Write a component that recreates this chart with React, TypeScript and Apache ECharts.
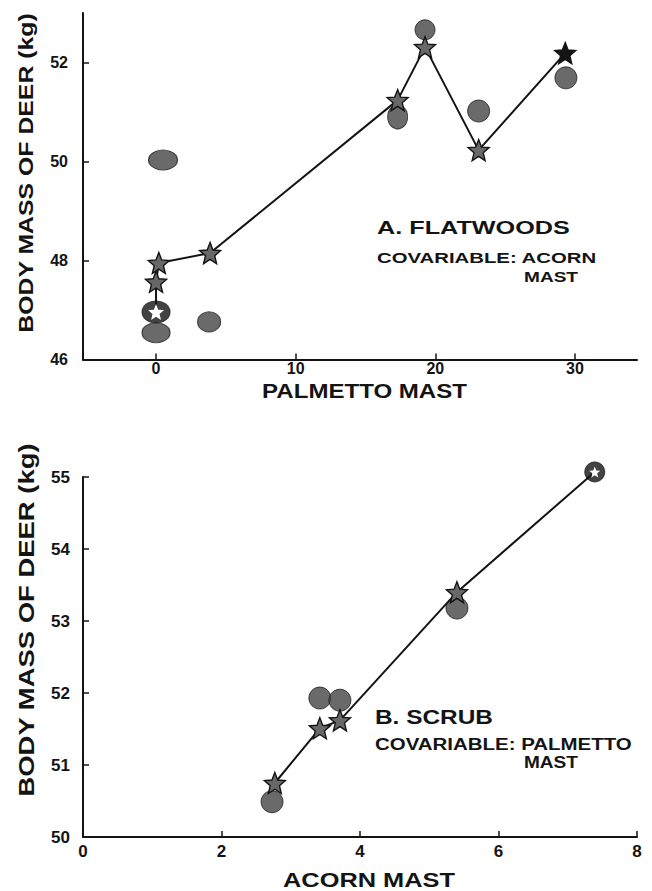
import React, { useEffect, useRef } from "react";
import * as echarts from "echarts";

// ---------- Panel A: Flatwoods (x = palmetto mast) ----------
const flatAdjX = [0, 0, 0.2, 3.87, 17.3, 19.26, 23.1, 29.3];
const flatAdjY = [46.96, 47.57, 47.95, 48.15, 51.24, 52.31, 50.23, 52.19];
const flatObsX = [0.5, 0, 0, 3.8, 17.3, 19.26, 23.1, 29.35];
const flatObsY = [50.03, 46.54, 46.96, 46.76, 50.9, 52.66, 51.02, 51.69];
const flatXTicks = [0, 10, 20, 30];
const flatYTicks = [46, 48, 50, 52];

// ---------- Panel B: Scrub (x = acorn mast) ----------
const scrubAdjX = [2.77, 3.42, 3.71, 5.4, 7.39];
const scrubAdjY = [50.75, 51.51, 51.62, 53.4, 55.07];
const scrubObsX = [2.73, 3.42, 3.71, 5.4, 7.39];
const scrubObsY = [50.49, 51.93, 51.9, 53.18, 55.07];
const scrubXTicks = [0, 2, 4, 6, 8];
const scrubYTicks = [50, 51, 52, 53, 54, 55];

// ---------- styling (sizes / kinds per point) ----------
const flatObsSizes = [[29, 20], [28, 20], [28, 22], [23, 20], [20, 24], [20, 20], [22, 22], [22, 22]];
const flatObsBlack = [false, false, true, false, false, false, false, false];
const flatAdjKind = ["open", "grey", "grey", "grey", "grey", "grey", "grey", "black"];
const scrubObsBlack = [false, false, false, false, true];
const scrubAdjKind = ["grey", "grey", "grey", "grey", "open"];

function starPath(R: number, r: number) {
  const pts: string[] = [];
  for (let i = 0; i < 10; i++) {
    const a = ((-90 + i * 36) * Math.PI) / 180;
    const rad = i % 2 === 0 ? R : r;
    pts.push(`${(Math.cos(a) * rad).toFixed(3)} ${(Math.sin(a) * rad).toFixed(3)}`);
  }
  return "path://M" + pts.join(" L") + " Z";
}
const STAR = starPath(10, 4.4);

const INK = "#141414";
const FONT = '"Liberation Sans", Arial, sans-serif';

function measure(text: string, size: number) {
  const c = document.createElement("canvas").getContext("2d");
  if (!c) return text.length * size * 0.6;
  c.font = `bold ${size}px ${FONT}`;
  return c.measureText(text).width;
}

function label(text: string, x: number, y: number, size: number, width: number, align: string, rotate = false) {
  const k = width / measure(text, size);
  return {
    type: "text",
    x,
    y,
    rotation: rotate ? Math.PI / 2 : 0,
    scaleX: k,
    silent: true,
    style: {
      text,
      fontSize: size,
      fontWeight: "bold",
      fontFamily: FONT,
      fill: INK,
      align,
      verticalAlign: "middle",
      textAlign: align,
      textVerticalAlign: "middle",
    },
  };
}

function adjItems(xs: number[], ys: number[], kinds: string[], openSize: number) {
  return xs.map((x, i) => {
    const kind = kinds[i];
    if (kind === "open")
      return {
        value: [x, ys[i]],
        symbol: STAR,
        symbolSize: openSize,
        itemStyle: { color: "#ffffff", borderWidth: 0 },
      };
    return {
      value: [x, ys[i]],
      symbol: STAR,
      symbolSize: 21,
      itemStyle: {
        color: kind === "black" ? INK : "#686868",
        borderColor: INK,
        borderWidth: 1.4,
      },
    };
  });
}

function obsItems(xs: number[], ys: number[], sizes: any[] | null, black: boolean[]) {
  return xs.map((x, i) => ({
    value: [x, ys[i]],
    symbol: "circle",
    symbolSize: sizes ? sizes[i] : black[i] ? 20 : 22,
    itemStyle: {
      color: black[i] ? INK : "#454545",
      borderColor: "#1e1e1e",
      borderWidth: 1,
    },
  }));
}

const axisLine = { show: true, onZero: false, lineStyle: { color: INK, width: 2 } };
const tickStyle = { lineStyle: { color: INK, width: 1.5 } };
const tickFont = (size: number, margin: number) => ({
  margin,
  fontSize: size,
  fontWeight: "bold",
  fontFamily: FONT,
  color: INK,
});

export default function App() {
  const ref = useRef<HTMLDivElement>(null);
  useEffect(() => {
    if (!ref.current) return;
    const chart = echarts.init(ref.current, undefined, { renderer: "svg" });
    const option: any = {
      animation: false,
      backgroundColor: "#ffffff",
      grid: [
        { left: 83, top: 13, width: 554, height: 346.5, outerBoundsMode: "none", containLabel: false },
        { left: 83, top: 477, width: 554, height: 360, outerBoundsMode: "none", containLabel: false },
      ],
      xAxis: [
        {
          gridIndex: 0,
          type: "value",
          min: -5.23,
          max: 34.44,
          axisLine,
          axisTick: { show: true, inside: true, length: 6, customValues: flatXTicks, ...tickStyle },
          axisLabel: { customValues: flatXTicks, ...tickFont(16, 1) },
          splitLine: { show: false },
        },
        {
          gridIndex: 1,
          type: "value",
          min: 0,
          max: 8,
          interval: 2,
          axisLine,
          axisTick: { show: true, inside: true, length: 6, customValues: scrubXTicks, ...tickStyle },
          axisLabel: { customValues: scrubXTicks, ...tickFont(17, 6) },
          splitLine: { show: false },
        },
      ],
      yAxis: [
        {
          gridIndex: 0,
          type: "value",
          min: 46,
          max: 53,
          axisLine,
          axisTick: { show: true, inside: true, length: 6, customValues: flatYTicks, ...tickStyle },
          axisLabel: { customValues: flatYTicks, ...tickFont(16, 15) },
          splitLine: { show: false },
        },
        {
          gridIndex: 1,
          type: "value",
          min: 50,
          max: 55,
          interval: 1,
          axisLine,
          axisTick: { show: true, inside: true, length: 6, customValues: scrubYTicks, ...tickStyle },
          axisLabel: { customValues: scrubYTicks, ...tickFont(17, 13) },
          splitLine: { show: false },
        },
      ],
      series: [
        {
          name: "Flatwoods observed",
          type: "scatter",
          xAxisIndex: 0,
          yAxisIndex: 0,
          clip: false,
          z: 2,
          data: obsItems(flatObsX, flatObsY, flatObsSizes, flatObsBlack),
        },
        {
          name: "Flatwoods adjusted",
          type: "line",
          xAxisIndex: 0,
          yAxisIndex: 0,
          clip: false,
          z: 3,
          showAllSymbol: true,
          lineStyle: { color: INK, width: 2 },
          data: adjItems(flatAdjX, flatAdjY, flatAdjKind, 16),
        },
        {
          name: "Scrub observed",
          type: "scatter",
          xAxisIndex: 1,
          yAxisIndex: 1,
          clip: false,
          z: 2,
          data: obsItems(scrubObsX, scrubObsY, null, scrubObsBlack),
        },
        {
          name: "Scrub adjusted",
          type: "line",
          xAxisIndex: 1,
          yAxisIndex: 1,
          clip: false,
          z: 3,
          showAllSymbol: true,
          lineStyle: { color: INK, width: 2 },
          data: adjItems(scrubAdjX, scrubAdjY, scrubAdjKind, 11),
        },
      ],
      graphic: [
        label("BODY MASS OF DEER (kg)", 26, 173, 21, 320, "center", true),
        label("PALMETTO MAST", 364.5, 391, 20, 205, "center"),
        label("A. FLATWOODS", 377, 228, 18, 193, "left"),
        label("COVARIABLE: ACORN", 377, 258, 15, 220, "left"),
        label("MAST", 524, 277, 14, 54, "left"),
        label("BODY MASS OF DEER (kg)", 26, 620, 22, 354, "center", true),
        label("ACORN MAST", 369, 880, 21, 172, "center"),
        label("B. SCRUB", 375, 717, 20, 118, "left"),
        label("COVARIABLE: PALMETTO", 375, 744, 17, 257, "left"),
        label("MAST", 524, 763, 16, 54, "left"),
      ],
    };
    chart.setOption(option);
    return () => chart.dispose();
  }, []);
  return (
    <div
      ref={ref}
      style={{ position: "fixed", left: 0, top: 0, width: 652, height: 891, background: "#fff" }}
    />
  );
}
